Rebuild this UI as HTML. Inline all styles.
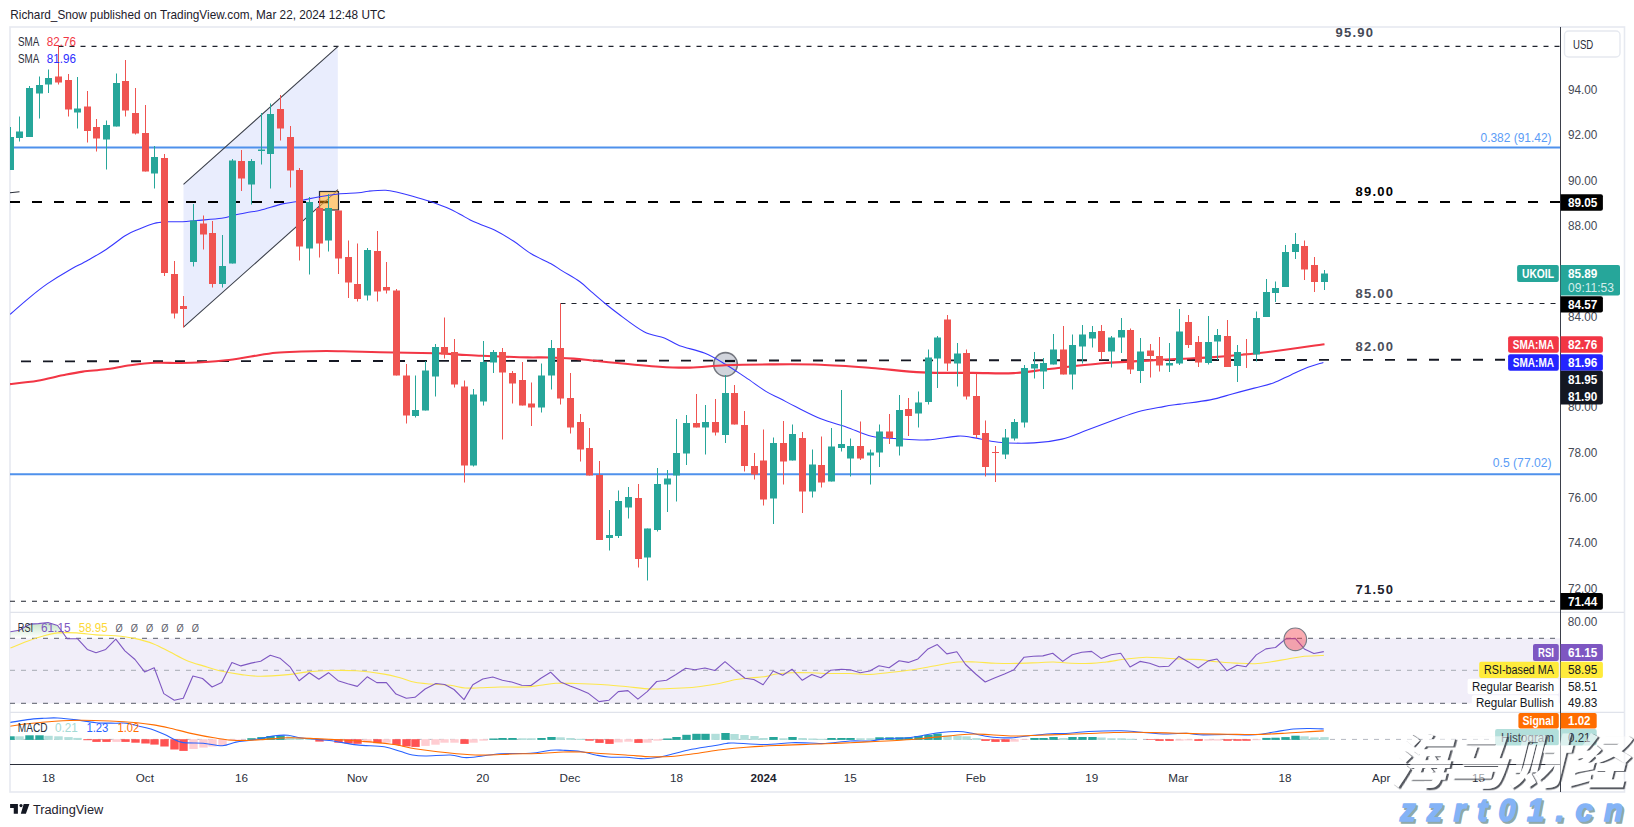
<!DOCTYPE html>
<html lang="en"><head><meta charset="utf-8"><title>UKOIL chart</title>
<style>html,body{margin:0;padding:0;background:#fff;}body{width:1634px;height:827px;overflow:hidden;font-family:"Liberation Sans","Noto Sans CJK SC",sans-serif;}svg{display:block}</style>
</head><body>
<svg width="1634" height="827" viewBox="0 0 1634 827" font-family="Liberation Sans, sans-serif">
<rect width="1634" height="827" fill="#fff"/>
<text x="10.3" y="19.1" font-size="13" fill="#1c202b" textLength="375.3" lengthAdjust="spacingAndGlyphs" >Richard_Snow published on TradingView.com, Mar 22, 2024 12:48 UTC</text>
<rect x="10" y="27" width="1614.5" height="765" fill="none" stroke="#e6e9f0" stroke-width="1.6"/>
<defs><clipPath id="cp"><rect x="10" y="28" width="1550.5" height="736"/></clipPath></defs>
<path d="M10 612.4H1624M10 712.4H1624" stroke="#e0e3eb" stroke-width="1.2"/>
<g clip-path="url(#cp)">
<rect x="10" y="638.4" width="1550" height="65" fill="#f1eef9"/>
<defs><linearGradient id="ob" x1="0" y1="0" x2="0" y2="1"><stop offset="0" stop-color="#4caf50" stop-opacity="0.32"/><stop offset="1" stop-color="#4caf50" stop-opacity="0"/></linearGradient></defs>
<polygon points="10,638.4 10,631.9 19.2,630.2 30.2,624.1 38.4,623.6 48,622.5 57.6,625.5 67,638.4" fill="url(#ob)"/>
<path d="M10 638.4H1560M10 703.4H1560" stroke="#787b86" stroke-width="1.1" stroke-dasharray="5 6" fill="none"/>
<path d="M10 670.4H1560" stroke="#b5b8c1" stroke-width="1.1" stroke-dasharray="5 6" fill="none"/>
<path d="M10 739.4H1495" stroke="#b5b8c1" stroke-width="1" stroke-dasharray="5 6" fill="none"/>
<polygon points="183.5,184.4 337.8,46.7 337.8,189.8 183.5,327.2" fill="#e9edfd"/>
<path d="M10 147.6H1560M10 474.3H1560" stroke="#4f91ec" stroke-width="2" fill="none"/>
<path d="M58.5 46.4H1560" stroke="#1e222d" stroke-width="1.1" stroke-dasharray="5 6" fill="none"/>
<path d="M560.5 303.5H1560" stroke="#1e222d" stroke-width="1.1" stroke-dasharray="5 6" fill="none"/>
<path d="M10 601.2H1560" stroke="#1e222d" stroke-width="1.1" stroke-dasharray="5 6" fill="none"/>
<path d="M10 202H1560" stroke="#000" stroke-width="2.1" stroke-dasharray="10 12" fill="none"/>
<path d="M21 361.4L1505 359.7" stroke="#151823" stroke-width="1.9" stroke-dasharray="10 12" fill="none"/>
<path d="M10 192.8L19.5 191.8" stroke="#2a2e39" stroke-width="1.1"/>
<path d="M183.5 184.4L337.8 46.7M183.5 327.2L338 189.6" stroke="#3c404b" stroke-width="1.1" fill="none"/>
<rect x="319.5" y="191.5" width="19" height="18.5" fill="#ffcc80" stroke="#2a2e39" stroke-width="1.2"/>
<path d="M320 202H328" stroke="#7d4a00" stroke-width="2.4"/>
<path d="M320 206L338 190" stroke="#b07a3a" stroke-width="1"/>
<circle cx="725.5" cy="364.4" r="11.8" fill="#d1d4dc" stroke="#74777f" stroke-width="1.6"/>
<path d="M725 361H735" stroke="#10131c" stroke-width="2.2"/>
<path d="M10.0 314.4C13.1 311.7 22.4 303.4 28.6 298.3C34.8 293.2 40.7 288.4 47.2 283.9C53.7 279.4 60.7 275.1 67.5 271.2C74.3 267.2 81.4 263.9 87.9 260.2C94.4 256.5 100.3 253.3 106.5 249.2C112.7 245.1 119.8 239.0 125.1 235.7C130.4 232.4 133.8 231.3 138.6 229.3C143.4 227.3 149.1 224.8 153.9 223.5C158.7 222.2 162.6 222.1 167.4 221.8C172.2 221.5 177.8 221.9 182.6 221.7C187.4 221.5 189.7 221.1 196.2 220.5C202.7 219.9 215.1 219.2 221.6 218.3C228.1 217.4 230.4 216.0 235.1 214.9C239.8 213.8 245.8 212.8 250.0 212.0C254.2 211.2 254.9 211.7 260.3 210.3C265.7 209.0 276.4 205.3 282.3 203.9C288.2 202.5 291.7 202.6 295.9 201.8C300.1 201.0 303.8 199.9 307.7 199.1C311.6 198.2 314.5 197.5 319.6 196.7C324.7 195.8 331.7 194.7 338.2 194.0C344.7 193.3 353.4 193.3 358.5 192.8C363.6 192.3 364.1 191.6 368.6 191.2C373.1 190.8 380.8 190.1 385.6 190.3C390.4 190.5 392.9 191.3 397.4 192.3C401.9 193.3 407.3 194.7 412.7 196.2C418.1 197.7 424.0 199.4 429.6 201.3C435.2 203.2 441.4 205.4 446.5 207.6C451.6 209.8 456.1 212.2 460.0 214.3C463.9 216.4 466.9 218.2 470.2 219.9C473.5 221.6 475.9 222.5 480.0 224.2C484.1 225.9 488.9 227.2 494.5 230.0C500.1 232.8 507.7 237.3 513.8 241.3C519.9 245.3 525.1 250.1 531.2 253.8C537.3 257.5 545.4 260.6 550.6 263.5C555.8 266.4 557.4 267.9 562.2 270.9C567.0 273.9 574.8 278.1 579.6 281.5C584.4 284.9 587.0 288.0 591.2 291.6C595.4 295.2 600.2 299.5 604.8 303.2C609.4 306.9 612.1 309.2 618.6 314.0C625.1 318.8 636.4 327.7 644.0 331.7C651.6 335.7 658.4 335.7 664.3 338.0C670.2 340.3 672.8 343.1 679.6 345.7C686.4 348.2 697.4 350.2 705.0 353.3C712.6 356.4 718.5 360.2 725.3 364.2C732.1 368.2 738.8 372.9 745.6 377.4C752.4 381.9 760.2 387.9 765.9 391.4C771.6 394.9 775.1 396.0 780.0 398.5C784.9 401.0 788.6 403.2 795.4 406.6C802.2 410.0 812.3 415.4 820.8 418.8C829.3 422.2 837.8 424.0 846.2 426.9C854.7 429.8 863.0 434.4 871.5 436.3C880.0 438.2 887.6 438.0 896.9 438.6C906.2 439.2 917.2 440.3 927.4 439.9C937.6 439.5 950.3 436.5 957.9 436.1C965.5 435.7 966.3 436.6 973.1 437.6C979.9 438.6 988.4 441.3 998.5 442.2C1008.6 443.1 1023.4 443.4 1034.0 442.9C1044.6 442.4 1053.1 441.2 1062.0 439.1C1070.9 437.0 1078.8 433.1 1087.3 430.0C1095.8 426.9 1104.2 423.7 1112.7 420.6C1121.2 417.6 1129.6 414.0 1138.1 411.7C1146.6 409.4 1156.5 407.9 1163.5 406.6C1170.5 405.3 1172.2 405.2 1180.0 404.1C1187.8 403.0 1201.5 401.6 1210.2 399.9C1218.9 398.2 1224.9 396.0 1232.2 394.0C1239.5 392.0 1247.4 389.9 1254.2 388.1C1261.0 386.3 1267.2 385.2 1273.3 383.0C1279.4 380.8 1285.5 377.3 1290.9 374.9C1296.3 372.4 1300.2 370.4 1305.6 368.3C1311.0 366.2 1320.4 363.4 1323.4 362.4" fill="none" stroke="#3737ff" stroke-width="1.1" stroke-linejoin="round"/>
<path d="M10.0 384.1C14.6 383.6 28.8 382.3 37.6 380.8C46.4 379.3 55.2 376.8 62.7 375.3C70.2 373.8 75.7 372.6 82.8 371.6C89.9 370.6 97.5 370.4 105.4 369.3C113.4 368.2 122.1 366.4 130.5 365.3C138.9 364.2 147.2 363.2 155.6 362.8C164.0 362.4 172.3 363.1 180.7 363.0C189.1 362.9 198.3 362.4 205.8 362.0C213.3 361.6 218.3 361.2 225.8 360.3C233.3 359.4 242.5 357.8 250.9 356.5C259.3 355.2 267.6 353.5 276.0 352.7C284.4 351.9 292.7 351.8 301.1 351.5C309.5 351.2 317.8 351.0 326.2 351.0C334.6 351.0 342.3 351.3 351.3 351.5C360.3 351.7 365.9 352.0 380.0 352.3C394.1 352.6 422.8 352.9 435.9 353.3C449.0 353.7 451.2 354.2 458.9 354.6C466.5 355.0 474.1 355.5 481.8 355.8C489.5 356.1 497.1 356.4 504.8 356.7C512.5 357.0 520.1 357.3 527.8 357.4C535.4 357.5 543.1 357.3 550.7 357.5C558.4 357.7 567.2 358.2 573.7 358.6C580.2 359.1 584.2 359.6 590.0 360.2C595.8 360.8 597.0 361.1 608.5 362.2C620.0 363.3 645.7 365.8 659.3 366.7C672.9 367.6 679.0 367.9 690.0 367.6C701.0 367.4 712.0 365.7 725.3 365.2C738.6 364.7 754.1 364.5 770.0 364.4C785.9 364.3 803.9 364.1 820.8 364.7C837.7 365.3 854.6 366.7 871.5 368.0C888.4 369.3 905.4 371.6 922.3 372.4C939.2 373.2 957.9 372.8 973.1 372.9C988.3 373.0 1001.0 373.8 1013.7 373.1C1026.4 372.5 1034.9 370.6 1049.3 369.0C1063.7 367.4 1083.1 364.9 1100.0 363.5C1116.9 362.1 1137.5 361.2 1150.8 360.4C1164.1 359.6 1170.0 359.4 1180.0 358.9C1190.0 358.4 1197.2 358.4 1210.8 357.4C1224.4 356.4 1242.5 355.0 1261.5 352.8C1280.5 350.6 1314.0 345.6 1324.5 344.2" fill="none" stroke="#f23645" stroke-width="2.1" stroke-linejoin="round"/>
<rect x="10" y="127.0" width="1" height="43.0" fill="#26a69a"/><rect x="7" y="137.0" width="7" height="33.0" fill="#26a69a"/>
<rect x="19" y="116.5" width="1" height="25.0" fill="#26a69a"/><rect x="16" y="131.5" width="7" height="6.5" fill="#26a69a"/>
<rect x="29" y="86.0" width="1" height="51.0" fill="#26a69a"/><rect x="26" y="88.0" width="7" height="49.0" fill="#26a69a"/>
<rect x="39" y="76.5" width="1" height="42.0" fill="#26a69a"/><rect x="36" y="85.0" width="7" height="8.5" fill="#26a69a"/>
<rect x="48" y="69.5" width="1" height="23.5" fill="#26a69a"/><rect x="45" y="78.0" width="7" height="6.5" fill="#26a69a"/>
<rect x="58" y="45.5" width="1" height="39.0" fill="#ef5350"/><rect x="55" y="76.5" width="7" height="6.0" fill="#ef5350"/>
<rect x="68" y="74.0" width="1" height="42.5" fill="#ef5350"/><rect x="65" y="80.0" width="7" height="29.5" fill="#ef5350"/>
<rect x="77" y="77.0" width="1" height="51.5" fill="#26a69a"/><rect x="74" y="108.5" width="7" height="4.0" fill="#26a69a"/>
<rect x="87" y="91.0" width="1" height="51.5" fill="#ef5350"/><rect x="84" y="106.5" width="7" height="24.5" fill="#ef5350"/>
<rect x="96" y="119.0" width="1" height="32.5" fill="#ef5350"/><rect x="93" y="127.0" width="7" height="11.5" fill="#ef5350"/>
<rect x="106" y="120.5" width="1" height="49.0" fill="#26a69a"/><rect x="103" y="125.0" width="7" height="14.5" fill="#26a69a"/>
<rect x="116" y="73.5" width="1" height="53.0" fill="#26a69a"/><rect x="113" y="83.0" width="7" height="43.5" fill="#26a69a"/>
<rect x="125" y="60.0" width="1" height="56.5" fill="#ef5350"/><rect x="122" y="81.0" width="7" height="29.5" fill="#ef5350"/>
<rect x="135" y="88.0" width="1" height="46.5" fill="#ef5350"/><rect x="132" y="113.0" width="7" height="20.5" fill="#ef5350"/>
<rect x="145" y="105.0" width="1" height="66.5" fill="#ef5350"/><rect x="142" y="133.0" width="7" height="38.5" fill="#ef5350"/>
<rect x="154" y="146.0" width="1" height="42.5" fill="#26a69a"/><rect x="151" y="157.0" width="7" height="16.5" fill="#26a69a"/>
<rect x="164" y="154.0" width="1" height="122.0" fill="#ef5350"/><rect x="161" y="158.0" width="7" height="115.0" fill="#ef5350"/>
<rect x="174" y="261.0" width="1" height="57.5" fill="#ef5350"/><rect x="171" y="274.0" width="7" height="39.5" fill="#ef5350"/>
<rect x="183" y="296.0" width="1" height="31.5" fill="#ef5350"/><rect x="180" y="306.0" width="7" height="3.0" fill="#ef5350"/>
<rect x="193" y="204.0" width="1" height="62.5" fill="#26a69a"/><rect x="190" y="220.5" width="7" height="41.5" fill="#26a69a"/>
<rect x="203" y="215.5" width="1" height="34.0" fill="#ef5350"/><rect x="200" y="223.5" width="7" height="11.0" fill="#ef5350"/>
<rect x="212" y="221.0" width="1" height="66.5" fill="#ef5350"/><rect x="209" y="233.0" width="7" height="51.0" fill="#ef5350"/>
<rect x="222" y="235.0" width="1" height="52.5" fill="#26a69a"/><rect x="219" y="266.0" width="7" height="18.0" fill="#26a69a"/>
<rect x="232" y="159.0" width="1" height="104.5" fill="#26a69a"/><rect x="229" y="160.5" width="7" height="103.0" fill="#26a69a"/>
<rect x="241" y="150.0" width="1" height="41.0" fill="#ef5350"/><rect x="238" y="161.0" width="7" height="17.5" fill="#ef5350"/>
<rect x="251" y="159.0" width="1" height="45.5" fill="#26a69a"/><rect x="248" y="161.0" width="7" height="23.5" fill="#26a69a"/>
<rect x="261" y="113.0" width="1" height="51.5" fill="#26a69a"/><rect x="258" y="149.5" width="7" height="1.5" fill="#26a69a"/>
<rect x="270" y="103.5" width="1" height="85.0" fill="#26a69a"/><rect x="267" y="114.0" width="7" height="40.0" fill="#26a69a"/>
<rect x="280" y="95.0" width="1" height="45.5" fill="#ef5350"/><rect x="277" y="109.0" width="7" height="19.5" fill="#ef5350"/>
<rect x="290" y="126.0" width="1" height="61.5" fill="#ef5350"/><rect x="287" y="137.0" width="7" height="33.5" fill="#ef5350"/>
<rect x="299" y="168.0" width="1" height="92.5" fill="#ef5350"/><rect x="296" y="170.0" width="7" height="76.5" fill="#ef5350"/>
<rect x="309" y="197.0" width="1" height="77.5" fill="#26a69a"/><rect x="306" y="202.0" width="7" height="46.5" fill="#26a69a"/>
<rect x="319" y="198.0" width="1" height="59.5" fill="#ef5350"/><rect x="316" y="208.0" width="7" height="35.5" fill="#ef5350"/>
<rect x="328" y="194.0" width="1" height="57.5" fill="#26a69a"/><rect x="325" y="208.0" width="7" height="32.5" fill="#26a69a"/>
<rect x="338" y="210.5" width="1" height="63.5" fill="#ef5350"/><rect x="335" y="210.5" width="7" height="48.0" fill="#ef5350"/>
<rect x="348" y="240.5" width="1" height="57.5" fill="#ef5350"/><rect x="345" y="257.0" width="7" height="25.5" fill="#ef5350"/>
<rect x="357" y="243.5" width="1" height="58.0" fill="#ef5350"/><rect x="354" y="284.0" width="7" height="15.0" fill="#ef5350"/>
<rect x="367" y="248.0" width="1" height="52.5" fill="#26a69a"/><rect x="364" y="250.0" width="7" height="45.5" fill="#26a69a"/>
<rect x="377" y="231.0" width="1" height="70.5" fill="#ef5350"/><rect x="374" y="251.0" width="7" height="40.5" fill="#ef5350"/>
<rect x="386" y="262.0" width="1" height="31.5" fill="#ef5350"/><rect x="383" y="287.0" width="7" height="3.5" fill="#ef5350"/>
<rect x="396" y="289.0" width="1" height="86.5" fill="#ef5350"/><rect x="393" y="290.5" width="7" height="85.0" fill="#ef5350"/>
<rect x="406" y="364.0" width="1" height="59.5" fill="#ef5350"/><rect x="403" y="375.5" width="7" height="40.0" fill="#ef5350"/>
<rect x="415" y="375.5" width="1" height="42.0" fill="#26a69a"/><rect x="412" y="410.0" width="7" height="6.0" fill="#26a69a"/>
<rect x="425" y="361.0" width="1" height="49.5" fill="#26a69a"/><rect x="422" y="370.5" width="7" height="40.0" fill="#26a69a"/>
<rect x="435" y="344.0" width="1" height="52.5" fill="#26a69a"/><rect x="432" y="347.0" width="7" height="29.5" fill="#26a69a"/>
<rect x="444" y="317.5" width="1" height="41.0" fill="#ef5350"/><rect x="441" y="347.0" width="7" height="7.5" fill="#ef5350"/>
<rect x="454" y="339.0" width="1" height="48.5" fill="#ef5350"/><rect x="451" y="352.0" width="7" height="32.5" fill="#ef5350"/>
<rect x="464" y="380.5" width="1" height="102.0" fill="#ef5350"/><rect x="461" y="386.5" width="7" height="79.0" fill="#ef5350"/>
<rect x="473" y="389.0" width="1" height="77.5" fill="#26a69a"/><rect x="470" y="394.5" width="7" height="71.0" fill="#26a69a"/>
<rect x="483" y="341.0" width="1" height="64.5" fill="#26a69a"/><rect x="480" y="362.0" width="7" height="39.5" fill="#26a69a"/>
<rect x="493" y="350.0" width="1" height="23.0" fill="#26a69a"/><rect x="490" y="352.0" width="7" height="10.5" fill="#26a69a"/>
<rect x="502" y="348.0" width="1" height="91.5" fill="#ef5350"/><rect x="499" y="352.0" width="7" height="20.5" fill="#ef5350"/>
<rect x="512" y="371.0" width="1" height="32.5" fill="#ef5350"/><rect x="509" y="373.0" width="7" height="10.5" fill="#ef5350"/>
<rect x="522" y="362.0" width="1" height="43.5" fill="#ef5350"/><rect x="519" y="380.0" width="7" height="25.5" fill="#ef5350"/>
<rect x="531" y="382.5" width="1" height="43.5" fill="#ef5350"/><rect x="528" y="403.5" width="7" height="4.0" fill="#ef5350"/>
<rect x="541" y="363.5" width="1" height="49.0" fill="#26a69a"/><rect x="538" y="375.5" width="7" height="32.0" fill="#26a69a"/>
<rect x="551" y="340.0" width="1" height="49.5" fill="#26a69a"/><rect x="548" y="348.0" width="7" height="27.5" fill="#26a69a"/>
<rect x="560" y="303.5" width="1" height="101.0" fill="#ef5350"/><rect x="557" y="348.0" width="7" height="50.5" fill="#ef5350"/>
<rect x="570" y="373.0" width="1" height="60.5" fill="#ef5350"/><rect x="567" y="398.0" width="7" height="29.5" fill="#ef5350"/>
<rect x="580" y="414.0" width="1" height="47.5" fill="#ef5350"/><rect x="577" y="422.0" width="7" height="27.5" fill="#ef5350"/>
<rect x="589" y="428.0" width="1" height="47.5" fill="#ef5350"/><rect x="586" y="448.0" width="7" height="27.5" fill="#ef5350"/>
<rect x="599" y="461.0" width="1" height="79.0" fill="#ef5350"/><rect x="596" y="475.0" width="7" height="65.0" fill="#ef5350"/>
<rect x="609" y="510.0" width="1" height="40.5" fill="#26a69a"/><rect x="606" y="535.0" width="7" height="3.0" fill="#26a69a"/>
<rect x="618" y="490.5" width="1" height="47.5" fill="#26a69a"/><rect x="615" y="501.0" width="7" height="35.0" fill="#26a69a"/>
<rect x="628" y="487.0" width="1" height="31.5" fill="#26a69a"/><rect x="625" y="497.0" width="7" height="10.5" fill="#26a69a"/>
<rect x="638" y="484.0" width="1" height="83.5" fill="#ef5350"/><rect x="635" y="498.0" width="7" height="61.0" fill="#ef5350"/>
<rect x="647" y="528.5" width="1" height="52.0" fill="#26a69a"/><rect x="644" y="528.5" width="7" height="29.0" fill="#26a69a"/>
<rect x="657" y="468.0" width="1" height="63.5" fill="#26a69a"/><rect x="654" y="484.0" width="7" height="46.0" fill="#26a69a"/>
<rect x="667" y="470.0" width="1" height="42.0" fill="#26a69a"/><rect x="664" y="478.5" width="7" height="6.0" fill="#26a69a"/>
<rect x="676" y="419.0" width="1" height="82.5" fill="#26a69a"/><rect x="673" y="453.0" width="7" height="22.5" fill="#26a69a"/>
<rect x="686" y="415.0" width="1" height="50.0" fill="#26a69a"/><rect x="683" y="423.0" width="7" height="30.5" fill="#26a69a"/>
<rect x="696" y="394.0" width="1" height="33.5" fill="#ef5350"/><rect x="693" y="423.0" width="7" height="4.5" fill="#ef5350"/>
<rect x="705" y="405.0" width="1" height="49.5" fill="#26a69a"/><rect x="702" y="422.0" width="7" height="5.5" fill="#26a69a"/>
<rect x="715" y="399.0" width="1" height="36.5" fill="#ef5350"/><rect x="712" y="422.0" width="7" height="10.5" fill="#ef5350"/>
<rect x="725" y="375.0" width="1" height="68.0" fill="#26a69a"/><rect x="722" y="393.0" width="7" height="42.0" fill="#26a69a"/>
<rect x="734" y="385.0" width="1" height="39.5" fill="#ef5350"/><rect x="731" y="393.0" width="7" height="31.5" fill="#ef5350"/>
<rect x="744" y="411.0" width="1" height="60.5" fill="#ef5350"/><rect x="741" y="425.0" width="7" height="41.0" fill="#ef5350"/>
<rect x="754" y="453.0" width="1" height="26.5" fill="#ef5350"/><rect x="751" y="466.0" width="7" height="8.5" fill="#ef5350"/>
<rect x="763" y="429.5" width="1" height="76.0" fill="#ef5350"/><rect x="760" y="460.5" width="7" height="39.0" fill="#ef5350"/>
<rect x="773" y="437.5" width="1" height="86.5" fill="#26a69a"/><rect x="770" y="443.0" width="7" height="55.5" fill="#26a69a"/>
<rect x="783" y="421.0" width="1" height="63.5" fill="#ef5350"/><rect x="780" y="443.0" width="7" height="18.5" fill="#ef5350"/>
<rect x="792" y="424.5" width="1" height="36.0" fill="#26a69a"/><rect x="789" y="434.0" width="7" height="26.5" fill="#26a69a"/>
<rect x="802" y="432.0" width="1" height="81.0" fill="#ef5350"/><rect x="799" y="438.0" width="7" height="53.5" fill="#ef5350"/>
<rect x="812" y="449.5" width="1" height="48.0" fill="#26a69a"/><rect x="809" y="464.5" width="7" height="27.0" fill="#26a69a"/>
<rect x="821" y="436.5" width="1" height="51.0" fill="#ef5350"/><rect x="818" y="465.0" width="7" height="17.5" fill="#ef5350"/>
<rect x="831" y="428.0" width="1" height="53.5" fill="#26a69a"/><rect x="828" y="446.5" width="7" height="35.0" fill="#26a69a"/>
<rect x="841" y="390.0" width="1" height="61.5" fill="#26a69a"/><rect x="838" y="444.0" width="7" height="4.0" fill="#26a69a"/>
<rect x="850" y="438.5" width="1" height="38.0" fill="#26a69a"/><rect x="847" y="446.0" width="7" height="12.5" fill="#26a69a"/>
<rect x="860" y="421.5" width="1" height="38.5" fill="#ef5350"/><rect x="857" y="446.0" width="7" height="12.5" fill="#ef5350"/>
<rect x="870" y="449.5" width="1" height="35.0" fill="#26a69a"/><rect x="867" y="452.5" width="7" height="3.0" fill="#26a69a"/>
<rect x="879" y="424.5" width="1" height="42.5" fill="#26a69a"/><rect x="876" y="431.5" width="7" height="21.0" fill="#26a69a"/>
<rect x="889" y="414.0" width="1" height="30.0" fill="#ef5350"/><rect x="886" y="431.5" width="7" height="6.5" fill="#ef5350"/>
<rect x="899" y="395.0" width="1" height="60.5" fill="#26a69a"/><rect x="896" y="410.0" width="7" height="36.5" fill="#26a69a"/>
<rect x="908" y="398.0" width="1" height="38.0" fill="#ef5350"/><rect x="905" y="409.0" width="7" height="7.0" fill="#ef5350"/>
<rect x="918" y="391.5" width="1" height="36.0" fill="#26a69a"/><rect x="915" y="402.5" width="7" height="11.0" fill="#26a69a"/>
<rect x="928" y="349.5" width="1" height="55.0" fill="#26a69a"/><rect x="925" y="357.5" width="7" height="44.5" fill="#26a69a"/>
<rect x="937" y="336.0" width="1" height="52.0" fill="#26a69a"/><rect x="934" y="337.5" width="7" height="21.0" fill="#26a69a"/>
<rect x="947" y="315.0" width="1" height="56.0" fill="#ef5350"/><rect x="944" y="319.5" width="7" height="44.0" fill="#ef5350"/>
<rect x="957" y="343.0" width="1" height="43.5" fill="#26a69a"/><rect x="954" y="353.5" width="7" height="10.0" fill="#26a69a"/>
<rect x="966" y="349.5" width="1" height="50.0" fill="#ef5350"/><rect x="963" y="353.0" width="7" height="43.5" fill="#ef5350"/>
<rect x="976" y="373.5" width="1" height="64.5" fill="#ef5350"/><rect x="973" y="396.0" width="7" height="39.0" fill="#ef5350"/>
<rect x="985" y="420.5" width="1" height="56.0" fill="#ef5350"/><rect x="982" y="433.0" width="7" height="34.0" fill="#ef5350"/>
<rect x="995" y="446.0" width="1" height="36.0" fill="#ef5350"/><rect x="992" y="452.0" width="7" height="1.0" fill="#ef5350"/>
<rect x="1005" y="429.0" width="1" height="30.0" fill="#26a69a"/><rect x="1002" y="437.5" width="7" height="17.0" fill="#26a69a"/>
<rect x="1014" y="419.0" width="1" height="21.5" fill="#26a69a"/><rect x="1011" y="422.0" width="7" height="16.5" fill="#26a69a"/>
<rect x="1024" y="365.0" width="1" height="62.5" fill="#26a69a"/><rect x="1021" y="368.0" width="7" height="54.5" fill="#26a69a"/>
<rect x="1034" y="352.0" width="1" height="26.5" fill="#26a69a"/><rect x="1031" y="364.0" width="7" height="4.5" fill="#26a69a"/>
<rect x="1043" y="358.0" width="1" height="31.0" fill="#26a69a"/><rect x="1040" y="363.0" width="7" height="8.5" fill="#26a69a"/>
<rect x="1053" y="334.0" width="1" height="30.5" fill="#26a69a"/><rect x="1050" y="349.5" width="7" height="15.0" fill="#26a69a"/>
<rect x="1063" y="326.0" width="1" height="48.5" fill="#ef5350"/><rect x="1060" y="349.5" width="7" height="25.0" fill="#ef5350"/>
<rect x="1072" y="334.5" width="1" height="55.0" fill="#26a69a"/><rect x="1069" y="345.0" width="7" height="29.5" fill="#26a69a"/>
<rect x="1082" y="325.0" width="1" height="38.5" fill="#26a69a"/><rect x="1079" y="334.5" width="7" height="12.0" fill="#26a69a"/>
<rect x="1092" y="326.0" width="1" height="21.5" fill="#26a69a"/><rect x="1089" y="332.0" width="7" height="6.5" fill="#26a69a"/>
<rect x="1101" y="325.0" width="1" height="34.5" fill="#ef5350"/><rect x="1098" y="331.0" width="7" height="21.0" fill="#ef5350"/>
<rect x="1111" y="336.0" width="1" height="31.5" fill="#26a69a"/><rect x="1108" y="337.5" width="7" height="14.0" fill="#26a69a"/>
<rect x="1121" y="318.0" width="1" height="35.0" fill="#26a69a"/><rect x="1118" y="330.0" width="7" height="7.5" fill="#26a69a"/>
<rect x="1130" y="328.5" width="1" height="45.5" fill="#ef5350"/><rect x="1127" y="330.0" width="7" height="39.5" fill="#ef5350"/>
<rect x="1140" y="338.0" width="1" height="45.0" fill="#26a69a"/><rect x="1137" y="351.5" width="7" height="19.5" fill="#26a69a"/>
<rect x="1150" y="344.0" width="1" height="33.5" fill="#ef5350"/><rect x="1147" y="350.5" width="7" height="5.5" fill="#ef5350"/>
<rect x="1159" y="337.0" width="1" height="34.5" fill="#ef5350"/><rect x="1156" y="356.0" width="7" height="9.5" fill="#ef5350"/>
<rect x="1169" y="343.0" width="1" height="29.0" fill="#26a69a"/><rect x="1166" y="363.0" width="7" height="2.5" fill="#26a69a"/>
<rect x="1179" y="309.0" width="1" height="56.0" fill="#26a69a"/><rect x="1176" y="331.5" width="7" height="32.0" fill="#26a69a"/>
<rect x="1188" y="315.0" width="1" height="33.0" fill="#ef5350"/><rect x="1185" y="322.0" width="7" height="23.0" fill="#ef5350"/>
<rect x="1198" y="336.0" width="1" height="31.0" fill="#ef5350"/><rect x="1195" y="342.0" width="7" height="20.5" fill="#ef5350"/>
<rect x="1208" y="316.0" width="1" height="48.5" fill="#26a69a"/><rect x="1205" y="342.0" width="7" height="21.0" fill="#26a69a"/>
<rect x="1217" y="329.0" width="1" height="31.0" fill="#26a69a"/><rect x="1214" y="335.0" width="7" height="6.5" fill="#26a69a"/>
<rect x="1227" y="320.0" width="1" height="47.0" fill="#ef5350"/><rect x="1224" y="336.0" width="7" height="31.0" fill="#ef5350"/>
<rect x="1237" y="345.0" width="1" height="37.0" fill="#26a69a"/><rect x="1234" y="352.0" width="7" height="14.0" fill="#26a69a"/>
<rect x="1246" y="339.0" width="1" height="29.0" fill="#ef5350"/><rect x="1243" y="353.5" width="7" height="1.0" fill="#ef5350"/>
<rect x="1256" y="311.5" width="1" height="50.0" fill="#26a69a"/><rect x="1253" y="318.0" width="7" height="36.5" fill="#26a69a"/>
<rect x="1266" y="279.0" width="1" height="38.0" fill="#26a69a"/><rect x="1263" y="292.0" width="7" height="25.0" fill="#26a69a"/>
<rect x="1275" y="281.5" width="1" height="20.5" fill="#26a69a"/><rect x="1272" y="288.0" width="7" height="5.0" fill="#26a69a"/>
<rect x="1285" y="245.0" width="1" height="42.0" fill="#26a69a"/><rect x="1282" y="252.0" width="7" height="35.0" fill="#26a69a"/>
<rect x="1295" y="233.0" width="1" height="26.0" fill="#26a69a"/><rect x="1292" y="244.0" width="7" height="8.0" fill="#26a69a"/>
<rect x="1304" y="240.5" width="1" height="39.5" fill="#ef5350"/><rect x="1301" y="246.0" width="7" height="23.5" fill="#ef5350"/>
<rect x="1314" y="257.0" width="1" height="35.0" fill="#ef5350"/><rect x="1311" y="265.0" width="7" height="17.0" fill="#ef5350"/>
<rect x="1324" y="270.0" width="1" height="20.0" fill="#26a69a"/><rect x="1321" y="273.5" width="7" height="8.5" fill="#26a69a"/>
<rect x="6.3" y="736.3" width="8.4" height="3.6" fill="#26a69a"/>
<rect x="15.3" y="736.3" width="8.4" height="3.6" fill="#b2dfdb"/>
<rect x="25.3" y="735.3" width="8.4" height="4.6" fill="#26a69a"/>
<rect x="35.3" y="735.3" width="8.4" height="4.6" fill="#26a69a"/>
<rect x="44.3" y="735.8" width="8.4" height="4.1" fill="#b2dfdb"/>
<rect x="54.3" y="736.3" width="8.4" height="3.6" fill="#b2dfdb"/>
<rect x="64.3" y="737.1" width="8.4" height="2.8" fill="#b2dfdb"/>
<rect x="73.3" y="737.9" width="8.4" height="2.0" fill="#b2dfdb"/>
<rect x="83.3" y="739.2" width="8.4" height="1.0" fill="#ff5252"/>
<rect x="92.3" y="739.2" width="8.4" height="2.7" fill="#ff5252"/>
<rect x="102.3" y="739.2" width="8.4" height="2.7" fill="#ff5252"/>
<rect x="112.3" y="739.2" width="8.4" height="2.7" fill="#ffcdd2"/>
<rect x="121.3" y="739.2" width="8.4" height="2.7" fill="#ff5252"/>
<rect x="131.3" y="739.2" width="8.4" height="3.5" fill="#ff5252"/>
<rect x="141.3" y="739.2" width="8.4" height="4.3" fill="#ff5252"/>
<rect x="150.3" y="739.2" width="8.4" height="5.4" fill="#ff5252"/>
<rect x="160.3" y="739.2" width="8.4" height="7.3" fill="#ff5252"/>
<rect x="170.3" y="739.2" width="8.4" height="10.3" fill="#ff5252"/>
<rect x="179.3" y="739.2" width="8.4" height="11.7" fill="#ff5252"/>
<rect x="189.3" y="739.2" width="8.4" height="9.8" fill="#ffcdd2"/>
<rect x="199.3" y="739.2" width="8.4" height="8.4" fill="#ffcdd2"/>
<rect x="208.3" y="739.2" width="8.4" height="7.3" fill="#ffcdd2"/>
<rect x="218.3" y="739.2" width="8.4" height="6.8" fill="#ffcdd2"/>
<rect x="228.3" y="739.2" width="8.4" height="1.2" fill="#ffcdd2"/>
<rect x="237.3" y="739.2" width="8.4" height="0.5" fill="#ffcdd2"/>
<rect x="247.3" y="738.2" width="8.4" height="1.7" fill="#26a69a"/>
<rect x="257.3" y="737.1" width="8.4" height="2.8" fill="#26a69a"/>
<rect x="266.3" y="736.0" width="8.4" height="3.9" fill="#26a69a"/>
<rect x="276.3" y="735.5" width="8.4" height="4.4" fill="#26a69a"/>
<rect x="286.3" y="736.3" width="8.4" height="3.6" fill="#b2dfdb"/>
<rect x="295.3" y="737.7" width="8.4" height="2.2" fill="#b2dfdb"/>
<rect x="305.3" y="738.5" width="8.4" height="1.4" fill="#b2dfdb"/>
<rect x="315.3" y="739.2" width="8.4" height="2.4" fill="#ff5252"/>
<rect x="324.3" y="739.2" width="8.4" height="1.8" fill="#ffcdd2"/>
<rect x="334.3" y="739.2" width="8.4" height="3.5" fill="#ff5252"/>
<rect x="344.3" y="739.2" width="8.4" height="4.3" fill="#ff5252"/>
<rect x="353.3" y="739.2" width="8.4" height="4.6" fill="#ff5252"/>
<rect x="363.3" y="739.2" width="8.4" height="3.5" fill="#ffcdd2"/>
<rect x="373.3" y="739.2" width="8.4" height="4.0" fill="#ff5252"/>
<rect x="382.3" y="739.2" width="8.4" height="3.5" fill="#ffcdd2"/>
<rect x="392.3" y="739.2" width="8.4" height="5.7" fill="#ff5252"/>
<rect x="402.3" y="739.2" width="8.4" height="7.2" fill="#ff5252"/>
<rect x="411.3" y="739.2" width="8.4" height="7.7" fill="#ff5252"/>
<rect x="421.3" y="739.2" width="8.4" height="6.7" fill="#ffcdd2"/>
<rect x="431.3" y="739.2" width="8.4" height="5.5" fill="#ffcdd2"/>
<rect x="440.3" y="739.2" width="8.4" height="3.5" fill="#ffcdd2"/>
<rect x="450.3" y="739.2" width="8.4" height="3.5" fill="#ffcdd2"/>
<rect x="460.3" y="739.2" width="8.4" height="4.7" fill="#ff5252"/>
<rect x="469.3" y="739.2" width="8.4" height="3.5" fill="#ffcdd2"/>
<rect x="479.3" y="739.2" width="8.4" height="1.5" fill="#ffcdd2"/>
<rect x="489.3" y="738.5" width="8.4" height="1.4" fill="#26a69a"/>
<rect x="498.3" y="738.0" width="8.4" height="1.9" fill="#26a69a"/>
<rect x="508.3" y="738.0" width="8.4" height="1.9" fill="#26a69a"/>
<rect x="518.3" y="738.3" width="8.4" height="1.6" fill="#b2dfdb"/>
<rect x="527.3" y="738.3" width="8.4" height="1.6" fill="#b2dfdb"/>
<rect x="537.3" y="738.0" width="8.4" height="1.9" fill="#26a69a"/>
<rect x="547.3" y="737.0" width="8.4" height="2.9" fill="#26a69a"/>
<rect x="556.3" y="737.3" width="8.4" height="2.6" fill="#b2dfdb"/>
<rect x="566.3" y="738.0" width="8.4" height="1.9" fill="#b2dfdb"/>
<rect x="576.3" y="738.8" width="8.4" height="1.1" fill="#b2dfdb"/>
<rect x="585.3" y="739.2" width="8.4" height="1.5" fill="#ff5252"/>
<rect x="595.3" y="739.2" width="8.4" height="3.7" fill="#ff5252"/>
<rect x="605.3" y="739.2" width="8.4" height="4.7" fill="#ff5252"/>
<rect x="614.3" y="739.2" width="8.4" height="3.2" fill="#ffcdd2"/>
<rect x="624.3" y="739.2" width="8.4" height="2.5" fill="#ffcdd2"/>
<rect x="634.3" y="739.2" width="8.4" height="3.7" fill="#ff5252"/>
<rect x="643.3" y="739.2" width="8.4" height="3.5" fill="#ffcdd2"/>
<rect x="653.3" y="739.2" width="8.4" height="1.5" fill="#ffcdd2"/>
<rect x="663.3" y="738.5" width="8.4" height="1.4" fill="#26a69a"/>
<rect x="672.3" y="737.0" width="8.4" height="2.9" fill="#26a69a"/>
<rect x="682.3" y="734.8" width="8.4" height="5.1" fill="#26a69a"/>
<rect x="692.3" y="733.8" width="8.4" height="6.1" fill="#26a69a"/>
<rect x="701.3" y="733.8" width="8.4" height="6.1" fill="#26a69a"/>
<rect x="711.3" y="733.8" width="8.4" height="6.1" fill="#b2dfdb"/>
<rect x="721.3" y="733.0" width="8.4" height="6.9" fill="#26a69a"/>
<rect x="730.3" y="734.0" width="8.4" height="5.9" fill="#b2dfdb"/>
<rect x="740.3" y="735.0" width="8.4" height="4.9" fill="#b2dfdb"/>
<rect x="750.3" y="736.0" width="8.4" height="3.9" fill="#b2dfdb"/>
<rect x="759.3" y="738.0" width="8.4" height="1.9" fill="#b2dfdb"/>
<rect x="769.3" y="737.0" width="8.4" height="2.9" fill="#26a69a"/>
<rect x="779.3" y="738.3" width="8.4" height="1.6" fill="#b2dfdb"/>
<rect x="788.3" y="737.0" width="8.4" height="2.9" fill="#26a69a"/>
<rect x="798.3" y="738.0" width="8.4" height="1.9" fill="#b2dfdb"/>
<rect x="808.3" y="738.5" width="8.4" height="1.4" fill="#b2dfdb"/>
<rect x="817.3" y="738.8" width="8.4" height="1.1" fill="#b2dfdb"/>
<rect x="827.3" y="738.0" width="8.4" height="1.9" fill="#26a69a"/>
<rect x="837.3" y="738.0" width="8.4" height="1.9" fill="#26a69a"/>
<rect x="846.3" y="738.0" width="8.4" height="1.9" fill="#26a69a"/>
<rect x="856.3" y="738.3" width="8.4" height="1.6" fill="#b2dfdb"/>
<rect x="866.3" y="738.3" width="8.4" height="1.6" fill="#b2dfdb"/>
<rect x="875.3" y="737.3" width="8.4" height="2.6" fill="#26a69a"/>
<rect x="885.3" y="737.3" width="8.4" height="2.6" fill="#26a69a"/>
<rect x="895.3" y="737.3" width="8.4" height="2.6" fill="#26a69a"/>
<rect x="904.3" y="737.3" width="8.4" height="2.6" fill="#26a69a"/>
<rect x="914.3" y="736.0" width="8.4" height="3.9" fill="#26a69a"/>
<rect x="924.3" y="734.8" width="8.4" height="5.1" fill="#26a69a"/>
<rect x="933.3" y="733.5" width="8.4" height="6.4" fill="#26a69a"/>
<rect x="943.3" y="735.5" width="8.4" height="4.4" fill="#b2dfdb"/>
<rect x="953.3" y="735.8" width="8.4" height="4.1" fill="#b2dfdb"/>
<rect x="962.3" y="736.3" width="8.4" height="3.6" fill="#b2dfdb"/>
<rect x="972.3" y="738.1" width="8.4" height="1.8" fill="#b2dfdb"/>
<rect x="981.3" y="739.2" width="8.4" height="1.7" fill="#ff5252"/>
<rect x="991.3" y="739.2" width="8.4" height="2.7" fill="#ff5252"/>
<rect x="1001.3" y="739.2" width="8.4" height="2.7" fill="#ff5252"/>
<rect x="1010.3" y="739.2" width="8.4" height="2.5" fill="#ffcdd2"/>
<rect x="1020.3" y="739.2" width="8.4" height="0.7" fill="#ffcdd2"/>
<rect x="1030.3" y="738.0" width="8.4" height="1.9" fill="#26a69a"/>
<rect x="1039.3" y="738.0" width="8.4" height="1.9" fill="#26a69a"/>
<rect x="1049.3" y="737.0" width="8.4" height="2.9" fill="#26a69a"/>
<rect x="1059.3" y="738.0" width="8.4" height="1.9" fill="#b2dfdb"/>
<rect x="1068.3" y="737.0" width="8.4" height="2.9" fill="#26a69a"/>
<rect x="1078.3" y="737.0" width="8.4" height="2.9" fill="#26a69a"/>
<rect x="1088.3" y="737.0" width="8.4" height="2.9" fill="#26a69a"/>
<rect x="1097.3" y="737.5" width="8.4" height="2.4" fill="#b2dfdb"/>
<rect x="1107.3" y="738.3" width="8.4" height="1.6" fill="#b2dfdb"/>
<rect x="1117.3" y="738.3" width="8.4" height="1.6" fill="#b2dfdb"/>
<rect x="1126.3" y="738.8" width="8.4" height="1.1" fill="#b2dfdb"/>
<rect x="1146.3" y="739.2" width="8.4" height="0.7" fill="#ff5252"/>
<rect x="1155.3" y="739.2" width="8.4" height="1.7" fill="#ff5252"/>
<rect x="1165.3" y="739.2" width="8.4" height="1.7" fill="#ff5252"/>
<rect x="1175.3" y="739.2" width="8.4" height="1.5" fill="#ffcdd2"/>
<rect x="1184.3" y="739.2" width="8.4" height="1.2" fill="#ffcdd2"/>
<rect x="1194.3" y="739.2" width="8.4" height="1.7" fill="#ff5252"/>
<rect x="1204.3" y="739.2" width="8.4" height="1.4" fill="#ffcdd2"/>
<rect x="1213.3" y="739.2" width="8.4" height="1.4" fill="#ffcdd2"/>
<rect x="1223.3" y="739.2" width="8.4" height="1.6" fill="#ff5252"/>
<rect x="1233.3" y="739.2" width="8.4" height="1.6" fill="#ff5252"/>
<rect x="1242.3" y="739.2" width="8.4" height="1.6" fill="#ff5252"/>
<rect x="1252.3" y="739.2" width="8.4" height="1.0" fill="#ffcdd2"/>
<rect x="1262.3" y="737.9" width="8.4" height="2.0" fill="#26a69a"/>
<rect x="1271.3" y="737.7" width="8.4" height="2.2" fill="#26a69a"/>
<rect x="1281.3" y="737.1" width="8.4" height="2.8" fill="#26a69a"/>
<rect x="1291.3" y="735.7" width="8.4" height="4.2" fill="#26a69a"/>
<rect x="1300.3" y="736.3" width="8.4" height="3.6" fill="#b2dfdb"/>
<rect x="1310.3" y="737.4" width="8.4" height="2.5" fill="#b2dfdb"/>
<rect x="1320.3" y="737.1" width="8.4" height="2.8" fill="#b2dfdb"/>
<path d="M10.4 722.4C13.2 721.9 21.8 720.3 27.4 719.6C33.0 718.9 38.9 718.6 43.9 718.3C48.9 718.0 52.1 717.7 57.6 718.0C63.1 718.3 70.4 719.1 76.8 719.9C83.2 720.7 89.6 722.2 96.0 722.7C102.4 723.2 110.3 723.1 115.3 723.2C120.3 723.3 122.6 722.8 126.2 723.2C129.8 723.6 133.1 724.7 137.2 725.7C141.3 726.7 146.3 727.5 150.9 729.0C155.5 730.5 159.7 732.3 164.7 734.5C169.7 736.7 174.7 740.6 181.1 742.1C187.5 743.6 196.2 742.6 203.1 743.2C210.0 743.8 216.8 745.9 222.3 745.7C227.8 745.5 231.0 743.1 236.0 742.1C241.0 741.1 246.1 741.0 252.5 740.0C258.9 739.0 268.5 736.6 274.4 735.8C280.3 735.0 283.5 734.9 288.1 735.3C292.7 735.7 295.0 737.1 301.9 738.0C308.8 738.9 320.1 739.4 329.3 740.5C338.5 741.6 347.7 743.9 356.8 744.9C365.9 745.9 377.0 745.7 384.2 746.8C391.4 747.9 395.3 749.9 400.0 751.3C404.7 752.7 408.3 754.2 412.5 755.0C416.7 755.8 418.8 756.0 425.1 756.0C431.4 756.0 443.7 754.8 450.2 755.0C456.7 755.2 459.8 757.2 464.0 757.5C468.2 757.8 469.2 757.6 475.3 757.0C481.4 756.4 491.2 754.4 500.4 753.8C509.6 753.2 522.1 753.9 530.5 753.3C538.9 752.7 545.2 750.8 550.6 750.3C556.0 749.8 558.1 750.1 563.1 750.3C568.1 750.5 575.3 750.7 580.7 751.5C586.1 752.3 591.1 754.1 595.7 755.0C600.3 755.9 603.3 756.6 608.3 757.0C613.3 757.4 620.4 757.0 625.8 757.3C631.2 757.6 636.7 758.4 640.9 758.6C645.1 758.8 646.7 758.8 650.9 758.3C655.1 757.8 659.7 757.2 666.0 755.8C672.3 754.4 680.6 751.7 688.6 750.0C696.6 748.3 707.4 746.9 713.7 745.8C720.0 744.7 722.9 744.0 726.2 743.5C729.6 743.0 727.5 742.8 733.8 743.0C740.1 743.2 754.3 744.5 763.9 744.5C773.5 744.5 783.8 743.0 791.5 742.7C799.2 742.5 804.4 742.9 810.0 743.0C815.6 743.1 818.4 743.8 825.1 743.5C831.8 743.2 842.7 741.4 850.2 741.0C857.7 740.6 864.4 741.4 870.3 741.0C876.1 740.6 879.0 739.2 885.3 738.7C891.6 738.2 901.2 738.3 907.9 737.7C914.6 737.1 920.1 735.9 925.5 735.0C930.9 734.1 935.1 733.1 940.5 732.5C945.9 731.9 953.1 731.4 958.1 731.5C963.1 731.6 966.0 732.2 970.6 733.0C975.2 733.8 980.7 735.4 985.7 736.2C990.7 737.0 996.2 737.5 1000.8 737.7C1005.4 738.0 1008.3 738.1 1013.3 737.7C1018.3 737.3 1024.6 736.2 1030.9 735.5C1037.2 734.8 1045.1 734.0 1050.9 733.7C1056.8 733.4 1059.7 733.9 1066.0 733.5C1072.3 733.1 1079.4 732.0 1088.6 731.5C1097.8 731.0 1112.4 730.6 1121.2 730.7C1130.0 730.8 1133.8 731.7 1141.3 732.2C1148.8 732.8 1158.9 733.8 1166.4 734.0C1173.9 734.2 1180.8 733.1 1186.4 733.2C1192.0 733.3 1193.2 734.6 1200.0 734.8C1206.8 735.0 1218.2 734.5 1227.4 734.5C1236.6 734.5 1247.1 735.2 1254.9 734.8C1262.7 734.4 1267.7 733.0 1274.1 732.0C1280.5 731.0 1287.3 729.6 1293.3 729.0C1299.2 728.4 1304.7 728.5 1309.8 728.5C1314.9 728.5 1321.5 728.9 1323.8 729.0" fill="none" stroke="#2962ff" stroke-width="1.1" stroke-linejoin="round"/>
<path d="M10.4 726.2C13.2 725.8 20.0 724.6 27.4 723.8C34.8 723.0 45.8 721.9 54.9 721.3C64.0 720.7 73.1 720.2 82.3 720.2C91.5 720.2 100.7 720.6 109.8 721.0C118.9 721.4 129.9 722.1 137.2 722.7C144.5 723.4 148.2 724.0 153.7 724.9C159.2 725.8 163.7 726.8 170.1 728.2C176.5 729.7 184.8 732.0 192.1 733.6C199.4 735.2 206.7 736.6 214.0 737.8C221.3 738.9 228.2 740.2 236.0 740.5C243.8 740.8 252.0 740.2 260.7 739.7C269.4 739.2 279.0 738.0 288.1 737.8C297.2 737.6 306.5 738.2 315.6 738.6C324.8 739.0 333.9 739.5 343.0 740.0C352.1 740.5 362.3 741.2 370.5 741.9C378.7 742.6 387.5 743.7 392.4 744.3C397.3 744.9 396.2 744.8 400.0 745.5C403.8 746.2 408.7 747.8 415.0 748.8C421.3 749.8 428.4 750.8 437.6 751.8C446.8 752.8 461.9 754.3 470.3 754.8C478.7 755.3 480.7 755.1 487.8 755.0C494.9 754.9 504.5 754.2 512.9 754.0C521.3 753.8 529.6 753.8 538.0 753.5C546.4 753.2 556.0 752.2 563.1 752.0C570.2 751.8 574.4 751.8 580.7 752.0C587.0 752.2 593.3 753.0 600.8 753.5C608.3 754.0 617.4 754.5 625.8 755.0C634.1 755.5 643.4 756.5 650.9 756.8C658.4 757.0 663.5 757.0 671.0 756.5C678.5 756.0 687.7 754.6 696.1 753.5C704.5 752.4 712.8 750.8 721.2 749.8C729.6 748.8 737.1 748.0 746.3 747.3C755.5 746.6 765.8 746.0 776.4 745.5C787.0 745.0 801.9 744.6 810.0 744.3C818.1 744.0 818.4 744.1 825.1 743.8C831.8 743.5 841.8 743.1 850.2 742.7C858.6 742.3 866.9 741.9 875.3 741.5C883.7 741.1 892.9 740.7 900.4 740.2C907.9 739.7 913.8 739.3 920.5 738.7C927.2 738.1 933.8 737.4 940.5 736.7C947.2 736.0 954.7 735.2 960.6 734.7C966.5 734.2 970.7 734.0 975.7 734.0C980.7 734.0 984.4 734.4 990.7 734.7C997.0 735.0 1005.3 735.9 1013.3 736.0C1021.2 736.1 1030.0 735.5 1038.4 735.2C1046.8 735.0 1055.1 734.8 1063.5 734.5C1071.9 734.2 1080.2 733.8 1088.6 733.5C1097.0 733.2 1106.6 732.7 1113.7 732.5C1120.8 732.3 1124.9 732.2 1131.2 732.2C1137.5 732.2 1143.8 732.3 1151.3 732.5C1158.8 732.7 1168.3 733.0 1176.4 733.2C1184.5 733.4 1191.5 733.5 1200.0 733.7C1208.5 733.9 1218.2 734.1 1227.4 734.2C1236.6 734.3 1245.8 734.6 1254.9 734.5C1264.1 734.4 1274.1 733.8 1282.3 733.4C1290.5 733.0 1297.4 732.4 1304.3 732.0C1311.2 731.6 1320.5 731.1 1323.8 730.9" fill="none" stroke="#ff6d00" stroke-width="1.1" stroke-linejoin="round"/>
<path d="M10.4 648.0C13.2 646.9 21.8 643.2 27.4 641.2C33.0 639.2 38.9 637.1 43.9 635.7C48.9 634.3 52.1 633.4 57.6 632.9C63.1 632.4 70.4 632.6 76.8 632.9C83.2 633.2 89.6 634.4 96.0 634.9C102.4 635.4 108.9 635.1 115.3 635.7C121.7 636.3 128.1 637.0 134.5 638.4C140.9 639.8 147.8 641.6 153.7 643.9C159.6 646.2 164.6 649.4 170.1 652.1C175.6 654.9 181.1 658.1 186.6 660.4C192.1 662.7 197.6 664.2 203.1 665.9C208.6 667.6 213.1 669.3 219.5 670.8C225.9 672.2 234.6 673.7 241.5 674.6C248.4 675.5 252.9 676.3 260.7 676.3C268.5 676.3 280.3 675.3 288.1 674.6C295.9 673.9 300.5 672.6 307.4 671.9C314.3 671.2 321.1 670.7 329.3 670.5C337.5 670.3 347.7 670.2 356.8 670.8C365.9 671.4 377.0 672.9 384.2 674.1C391.4 675.3 394.9 676.4 400.0 677.8C405.1 679.2 410.0 681.3 415.0 682.3C420.0 683.3 424.2 683.5 430.1 684.0C436.0 684.5 444.4 684.6 450.2 685.3C456.0 686.0 460.2 687.6 465.2 688.0C470.2 688.4 474.4 688.0 480.3 687.8C486.2 687.6 492.9 687.1 500.4 687.0C507.9 686.9 518.8 687.3 525.5 687.0C532.2 686.7 535.5 685.9 540.5 685.3C545.5 684.7 549.7 683.6 555.6 683.3C561.5 683.0 568.2 683.3 575.7 683.5C583.2 683.7 592.4 684.0 600.8 684.5C609.1 685.0 617.4 685.8 625.8 686.5C634.1 687.2 642.5 688.7 650.9 689.0C659.3 689.3 668.5 688.6 676.0 688.3C683.5 688.0 689.4 687.7 696.1 687.0C702.8 686.3 709.5 685.2 716.2 684.0C722.9 682.8 730.4 680.5 736.3 679.5C742.1 678.5 746.7 678.2 751.3 677.8C755.9 677.3 759.7 677.4 763.9 676.8C768.1 676.2 771.8 674.7 776.4 674.0C781.0 673.3 785.9 672.9 791.5 672.7C797.1 672.5 804.4 672.6 810.0 672.7C815.6 672.8 818.4 673.4 825.1 673.5C831.8 673.6 843.1 673.3 850.2 673.5C857.3 673.7 861.5 674.6 867.8 674.5C874.1 674.4 880.3 673.5 887.8 672.7C895.3 671.9 904.9 670.9 912.9 669.7C920.9 668.5 928.0 667.0 935.5 665.7C943.0 664.4 951.4 662.6 958.1 662.0C964.8 661.4 969.4 661.8 975.7 662.0C982.0 662.2 989.0 663.0 995.7 663.2C1002.4 663.4 1008.7 663.5 1015.8 663.4C1022.9 663.3 1032.1 662.9 1038.4 662.7C1044.7 662.5 1048.1 661.9 1053.5 662.0C1058.9 662.1 1064.7 663.0 1071.0 663.2C1077.3 663.4 1085.2 663.6 1091.1 663.4C1096.9 663.2 1100.2 662.7 1106.1 662.0C1111.9 661.3 1119.5 659.8 1126.2 659.0C1132.9 658.2 1139.6 657.3 1146.3 657.2C1153.0 657.1 1159.7 657.9 1166.4 658.2C1173.1 658.6 1180.8 659.1 1186.4 659.3C1192.0 659.5 1195.0 659.2 1200.0 659.6C1205.0 660.0 1210.5 661.2 1216.5 661.8C1222.5 662.4 1229.3 662.8 1235.7 663.1C1242.1 663.4 1249.0 663.9 1254.9 663.7C1260.9 663.5 1265.9 662.6 1271.4 661.8C1276.9 661.0 1282.3 659.9 1287.8 659.0C1293.3 658.1 1298.3 656.9 1304.3 656.3C1310.3 655.7 1320.5 655.5 1323.8 655.4" fill="none" stroke="#fde74c" stroke-width="1.1" stroke-linejoin="round"/>
<polyline points="10.4,631.8 19.2,630.2 30.2,624.1 38.4,623.6 48.0,622.5 57.6,625.5 67.2,638.7 77.4,638.7 87.3,649.4 96.0,652.7 105.7,649.4 115.8,639.2 124.9,650.8 135.0,659.5 144.6,671.9 154.2,667.8 163.8,693.6 174.3,700.2 183.3,698.2 192.9,676.0 202.5,678.5 212.1,687.0 221.7,682.6 231.9,662.6 240.9,665.9 251.1,663.1 260.7,661.2 270.3,655.2 279.9,658.2 290.3,667.2 299.1,680.7 309.3,672.7 318.9,679.3 328.5,672.7 338.1,680.7 347.7,683.7 357.3,686.4 367.2,676.8 376.8,682.6 386.4,682.6 396.0,694.1 406.3,698.3 415.0,697.3 425.1,689.0 435.9,683.5 444.7,684.5 454.0,689.5 464.0,699.6 472.8,684.8 482.8,679.0 492.8,677.0 502.4,680.3 511.7,682.0 521.7,685.3 531.0,685.5 540.5,678.5 550.6,672.2 560.6,682.0 570.1,686.0 579.4,689.5 588.7,693.6 599.0,701.6 608.8,700.3 618.3,691.6 627.9,690.6 637.9,699.1 647.2,691.6 656.7,681.5 666.5,680.3 676.0,674.5 685.6,668.2 694.9,669.7 704.9,668.0 714.9,670.5 725.0,661.7 735.0,670.2 745.0,678.3 753.8,679.5 763.1,684.8 773.1,671.0 782.7,675.2 792.0,669.2 802.3,680.3 811.8,674.5 820.8,677.8 830.6,670.2 841.4,669.2 850.2,669.7 860.2,672.7 869.8,671.0 879.0,665.7 889.1,667.7 899.1,660.7 908.4,662.4 917.9,658.9 928.0,648.9 937.3,644.6 946.8,653.9 956.8,651.7 965.6,664.5 975.7,674.0 985.2,682.0 994.5,678.0 1004.5,674.0 1014.0,669.7 1024.1,657.2 1033.4,656.2 1042.9,655.9 1052.7,653.2 1062.7,661.4 1072.3,654.7 1081.8,652.2 1091.6,651.4 1101.1,658.4 1111.2,654.7 1120.7,653.2 1130.0,667.0 1140.0,661.4 1149.6,663.2 1159.3,666.7 1168.9,666.2 1178.9,656.4 1188.5,661.9 1198.2,668.0 1208.2,660.9 1217.0,659.0 1226.9,670.8 1237.1,665.3 1246.1,666.7 1256.3,654.9 1265.9,648.9 1275.5,647.5 1285.6,639.0 1295.3,638.4 1304.3,648.9 1313.9,653.5 1323.8,651.6" fill="none" stroke="#7e57c2" stroke-width="1.1" stroke-linejoin="round"/>
<circle cx="1295.3" cy="639.3" r="11.3" fill="#f23645" fill-opacity="0.42" stroke="#787b86" stroke-width="1.1"/>
</g>
<text x="1335.5" y="37.2" font-size="13" fill="#454955" font-weight="bold" textLength="37.4" lengthAdjust="spacing" >95.90</text>
<text x="1355.5" y="196.4" font-size="13" fill="#000" font-weight="bold" textLength="37.4" lengthAdjust="spacing" >89.00</text>
<text x="1355.5" y="297.7" font-size="13" fill="#4a4e5a" font-weight="bold" textLength="37.4" lengthAdjust="spacing" >85.00</text>
<text x="1355.5" y="351.3" font-size="13" fill="#4a4e5a" font-weight="bold" textLength="37.4" lengthAdjust="spacing" >82.00</text>
<text x="1355.5" y="594.4" font-size="13" fill="#1e222d" font-weight="bold" textLength="37.4" lengthAdjust="spacing" >71.50</text>
<text x="1551.6" y="141.7" font-size="12" fill="#5b9cf6" text-anchor="end" textLength="71.1" lengthAdjust="spacingAndGlyphs" >0.382 (91.42)</text>
<text x="1551.6" y="467.4" font-size="12" fill="#5b9cf6" text-anchor="end" textLength="58.8" lengthAdjust="spacingAndGlyphs" >0.5 (77.02)</text>
<text x="18" y="45.9" font-size="12" fill="#2a2e39" textLength="21.3" lengthAdjust="spacingAndGlyphs" >SMA</text>
<text x="46.8" y="45.9" font-size="12" fill="#f23645" textLength="29.2" lengthAdjust="spacingAndGlyphs" >82.76</text>
<text x="18" y="62.7" font-size="12" fill="#2a2e39" textLength="21.3" lengthAdjust="spacingAndGlyphs" >SMA</text>
<text x="46.8" y="62.7" font-size="12" fill="#2e2eff" textLength="29.2" lengthAdjust="spacingAndGlyphs" >81.96</text>
<text x="17.8" y="632.3" font-size="12" fill="#2a2e39" textLength="15.2" lengthAdjust="spacingAndGlyphs" >RSI</text>
<text x="41" y="632.3" font-size="12" fill="#7e57c2" textLength="29.5" lengthAdjust="spacingAndGlyphs" >61.15</text>
<text x="78.8" y="632.3" font-size="12" fill="#fdd835" textLength="28.8" lengthAdjust="spacingAndGlyphs" >58.95</text>
<text x="115.4" y="632.1" font-size="10.5" fill="#5d606b" textLength="7.2" lengthAdjust="spacingAndGlyphs" >Ø</text>
<text x="130.66" y="632.1" font-size="10.5" fill="#5d606b" textLength="7.2" lengthAdjust="spacingAndGlyphs" >Ø</text>
<text x="145.92000000000002" y="632.1" font-size="10.5" fill="#5d606b" textLength="7.2" lengthAdjust="spacingAndGlyphs" >Ø</text>
<text x="161.18" y="632.1" font-size="10.5" fill="#5d606b" textLength="7.2" lengthAdjust="spacingAndGlyphs" >Ø</text>
<text x="176.44" y="632.1" font-size="10.5" fill="#5d606b" textLength="7.2" lengthAdjust="spacingAndGlyphs" >Ø</text>
<text x="191.7" y="632.1" font-size="10.5" fill="#5d606b" textLength="7.2" lengthAdjust="spacingAndGlyphs" >Ø</text>
<text x="17.8" y="732.2" font-size="12" fill="#2a2e39" textLength="29.7" lengthAdjust="spacingAndGlyphs" >MACD</text>
<text x="54.9" y="732.2" font-size="12" fill="#a5dbd5" textLength="22.8" lengthAdjust="spacingAndGlyphs" >0.21</text>
<text x="86.4" y="732.2" font-size="12" fill="#2962ff" textLength="22" lengthAdjust="spacingAndGlyphs" >1.23</text>
<text x="117.5" y="732.2" font-size="12" fill="#ff6d00" textLength="21.6" lengthAdjust="spacingAndGlyphs" >1.02</text>
<path d="M1560.5 27V792" stroke="#3b3f4a" stroke-width="1"/>
<path d="M10 764.4H1560.5" stroke="#2a2e39" stroke-width="1.05"/>
<text x="1568" y="93.8" font-size="12" fill="#454955" textLength="29.4" lengthAdjust="spacingAndGlyphs" >94.00</text>
<text x="1568" y="139.2" font-size="12" fill="#454955" textLength="29.4" lengthAdjust="spacingAndGlyphs" >92.00</text>
<text x="1568" y="184.5" font-size="12" fill="#454955" textLength="29.4" lengthAdjust="spacingAndGlyphs" >90.00</text>
<text x="1568" y="229.9" font-size="12" fill="#454955" textLength="29.4" lengthAdjust="spacingAndGlyphs" >88.00</text>
<text x="1568" y="320.6" font-size="12" fill="#454955" textLength="29.4" lengthAdjust="spacingAndGlyphs" >84.00</text>
<text x="1568" y="411.3" font-size="12" fill="#454955" textLength="29.4" lengthAdjust="spacingAndGlyphs" >80.00</text>
<text x="1568" y="456.7" font-size="12" fill="#454955" textLength="29.4" lengthAdjust="spacingAndGlyphs" >78.00</text>
<text x="1568" y="502.0" font-size="12" fill="#454955" textLength="29.4" lengthAdjust="spacingAndGlyphs" >76.00</text>
<text x="1568" y="547.4" font-size="12" fill="#454955" textLength="29.4" lengthAdjust="spacingAndGlyphs" >74.00</text>
<text x="1568" y="592.8" font-size="12" fill="#454955" textLength="29.4" lengthAdjust="spacingAndGlyphs" >72.00</text>
<text x="1567.8" y="626.3" font-size="12" fill="#454955" textLength="29.4" lengthAdjust="spacingAndGlyphs" >80.00</text>
<rect x="1564.5" y="31" width="55.5" height="26" rx="4" fill="#fff" stroke="#e6e9f0" stroke-width="1.4"/>
<text x="1573" y="49" font-size="12" fill="#2a2e39" textLength="20.3" lengthAdjust="spacingAndGlyphs" >USD</text>
<path d="M1560.6 194.3H1600.9a2 2 0 0 1 2 2V208.7a2 2 0 0 1 -2 2H1560.6Z" fill="#000"/>
<text x="1568" y="206.8" font-size="12" fill="#fff" font-weight="bold" textLength="29.4" lengthAdjust="spacingAndGlyphs" >89.05</text>
<path d="M1560.6 265H1618a2 2 0 0 1 2 2V293.5a2 2 0 0 1 -2 2H1560.6Z" fill="#26a69a"/>
<text x="1568" y="277.7" font-size="12" fill="#fff" font-weight="bold" textLength="29.4" lengthAdjust="spacingAndGlyphs" >85.89</text>
<text x="1568" y="291.8" font-size="12" fill="#d4edeb" textLength="46" lengthAdjust="spacingAndGlyphs" >09:11:53</text>
<rect x="1517.1" y="265" width="41.7" height="17.0" rx="2" fill="#26a69a"/>
<text x="1554" y="277.8" font-size="12" fill="#fff" text-anchor="end" font-weight="bold" textLength="32" lengthAdjust="spacingAndGlyphs" >UKOIL</text>
<path d="M1560.6 296.3H1600.9a2 2 0 0 1 2 2V310.6a2 2 0 0 1 -2 2H1560.6Z" fill="#000"/>
<text x="1568" y="308.8" font-size="12" fill="#fff" font-weight="bold" textLength="29.4" lengthAdjust="spacingAndGlyphs" >84.57</text>
<path d="M1560.6 336.3H1600.9a2 2 0 0 1 2 2V350.7a2 2 0 0 1 -2 2H1560.6Z" fill="#f23645"/>
<text x="1568" y="348.8" font-size="12" fill="#fff" font-weight="bold" textLength="29.4" lengthAdjust="spacingAndGlyphs" >82.76</text>
<rect x="1508.1" y="336.3" width="50.7" height="16.4" rx="2" fill="#f23645"/>
<text x="1554" y="348.8" font-size="12" fill="#fff" text-anchor="end" font-weight="bold" textLength="41.2" lengthAdjust="spacingAndGlyphs" >SMA:MA</text>
<path d="M1560.6 354.3H1600.9a2 2 0 0 1 2 2V368.7a2 2 0 0 1 -2 2H1560.6Z" fill="#2424ff"/>
<text x="1568" y="366.8" font-size="12" fill="#fff" font-weight="bold" textLength="29.4" lengthAdjust="spacingAndGlyphs" >81.96</text>
<rect x="1508.1" y="354.3" width="50.7" height="16.4" rx="2" fill="#2424ff"/>
<text x="1554" y="366.8" font-size="12" fill="#fff" text-anchor="end" font-weight="bold" textLength="41.2" lengthAdjust="spacingAndGlyphs" >SMA:MA</text>
<path d="M1560.6 370.7H1600.9a2 2 0 0 1 2 2V402.6a2 2 0 0 1 -2 2H1560.6Z" fill="#131722"/>
<text x="1568" y="384" font-size="12" fill="#fff" font-weight="bold" textLength="29.4" lengthAdjust="spacingAndGlyphs" >81.95</text>
<text x="1568" y="400.7" font-size="12" fill="#fff" font-weight="bold" textLength="29.4" lengthAdjust="spacingAndGlyphs" >81.90</text>
<path d="M1560.6 593H1600.9a2 2 0 0 1 2 2V607.8a2 2 0 0 1 -2 2H1560.6Z" fill="#000"/>
<text x="1568" y="605.7" font-size="12" fill="#fff" font-weight="bold" textLength="29.4" lengthAdjust="spacingAndGlyphs" >71.44</text>
<path d="M1560.6 643.9H1600.9a2 2 0 0 1 2 2V658.9a2 2 0 0 1 -2 2H1560.6Z" fill="#7e57c2"/>
<text x="1568" y="656.7" font-size="12" fill="#fff" font-weight="bold" textLength="29.4" lengthAdjust="spacingAndGlyphs" >61.15</text>
<rect x="1533" y="643.9" width="25.8" height="17.0" rx="2" fill="#7e57c2"/>
<text x="1554" y="656.7" font-size="12" fill="#fff" text-anchor="end" font-weight="bold" textLength="16" lengthAdjust="spacingAndGlyphs" >RSI</text>
<path d="M1560.6 661.8H1600.9a2 2 0 0 1 2 2V676a2 2 0 0 1 -2 2H1560.6Z" fill="#ffeb3b"/>
<text x="1568" y="674.2" font-size="12" fill="#131722" textLength="29.4" lengthAdjust="spacingAndGlyphs" >58.95</text>
<rect x="1479.2" y="661.8" width="79.6" height="16.2" rx="2" fill="#ffeb3b"/>
<text x="1554" y="674.2" font-size="12" fill="#131722" text-anchor="end" textLength="70" lengthAdjust="spacingAndGlyphs" >RSI-based MA</text>
<rect x="1467.6" y="678.8" width="91.2" height="15.4" rx="2" fill="#fff"/>
<text x="1554" y="690.8" font-size="12" fill="#131722" text-anchor="end" textLength="82" lengthAdjust="spacingAndGlyphs" >Regular Bearish</text>
<text x="1568" y="690.8" font-size="12" fill="#131722" textLength="29.4" lengthAdjust="spacingAndGlyphs" >58.51</text>
<rect x="1471.8" y="695.3" width="87.0" height="15.3" rx="2" fill="#fff"/>
<text x="1554" y="707.2" font-size="12" fill="#131722" text-anchor="end" textLength="78" lengthAdjust="spacingAndGlyphs" >Regular Bullish</text>
<text x="1568" y="707.3" font-size="12" fill="#131722" textLength="29.4" lengthAdjust="spacingAndGlyphs" >49.83</text>
<path d="M1560.6 713.1H1594.7a2 2 0 0 1 2 2V726.5a2 2 0 0 1 -2 2H1560.6Z" fill="#ff6d00"/>
<text x="1568" y="725.1" font-size="12" fill="#fff" font-weight="bold" textLength="22.5" lengthAdjust="spacingAndGlyphs" >1.02</text>
<rect x="1518.4" y="713.1" width="40.4" height="15.4" rx="2" fill="#ff6d00"/>
<text x="1554" y="725.1" font-size="12" fill="#fff" text-anchor="end" font-weight="bold" textLength="31.5" lengthAdjust="spacingAndGlyphs" >Signal</text>
<path d="M1560.6 729H1594.7a2 2 0 0 1 2 2V743.5a2 2 0 0 1 -2 2H1560.6Z" fill="#b2dfdb"/>
<text x="1568" y="741.5" font-size="12" fill="#2a2e39" textLength="22.5" lengthAdjust="spacingAndGlyphs" >0.21</text>
<rect x="1495.1" y="729" width="63.7" height="16.5" rx="2" fill="#b2dfdb"/>
<text x="1554" y="741.5" font-size="12" fill="#434651" text-anchor="end" textLength="53" lengthAdjust="spacingAndGlyphs" >Histogram</text>
<text x="48.5" y="781.8" font-size="11.7" fill="#2a2e39" text-anchor="middle" >18</text>
<text x="144.8" y="781.8" font-size="11.7" fill="#2a2e39" text-anchor="middle" >Oct</text>
<text x="241.5" y="781.8" font-size="11.7" fill="#2a2e39" text-anchor="middle" >16</text>
<text x="357.3" y="781.8" font-size="11.7" fill="#2a2e39" text-anchor="middle" >Nov</text>
<text x="482.8" y="781.8" font-size="11.7" fill="#2a2e39" text-anchor="middle" >20</text>
<text x="569.9" y="781.8" font-size="11.7" fill="#2a2e39" text-anchor="middle" >Dec</text>
<text x="676.5" y="781.8" font-size="11.7" fill="#2a2e39" text-anchor="middle" >18</text>
<text x="763.4" y="781.8" font-size="11.7" fill="#1e222d" text-anchor="middle" font-weight="bold" >2024</text>
<text x="850.2" y="781.8" font-size="11.7" fill="#2a2e39" text-anchor="middle" >15</text>
<text x="975.7" y="781.8" font-size="11.7" fill="#2a2e39" text-anchor="middle" >Feb</text>
<text x="1091.8" y="781.8" font-size="11.7" fill="#2a2e39" text-anchor="middle" >19</text>
<text x="1178.4" y="781.8" font-size="11.7" fill="#2a2e39" text-anchor="middle" >Mar</text>
<text x="1285.1" y="781.8" font-size="11.7" fill="#2a2e39" text-anchor="middle" >18</text>
<text x="1381.2" y="781.8" font-size="11.7" fill="#2a2e39" text-anchor="middle" >Apr</text>
<text x="1478.6" y="781.8" font-size="11.7" fill="#2a2e39" text-anchor="middle" >15</text>
<path d="M10.1 804.1H17.9V813.7H13.75V807.9H10.1Z M23.7 804.1H29.4L25.9 813.7H20.8Z" fill="#131722"/><circle cx="21" cy="805.6" r="1.55" fill="#131722"/>
<text x="32.9" y="813.7" font-size="12.3" fill="#1e222d" textLength="70.4" lengthAdjust="spacingAndGlyphs" >TradingView</text>
<defs><mask id="wm" maskUnits="userSpaceOnUse" x="1370" y="715" width="270" height="90"><rect x="1370" y="715" width="270" height="90" fill="#fff"/><text font-family="Noto Sans CJK SC, WenQuanYi Zen Hei, sans-serif" font-weight="900" font-size="58" letter-spacing="1.5" transform="translate(1389 782.5) skewX(-14)" x="0" y="0" fill="#000">海马财经</text></mask><filter id="bl" x="-5%" y="-20%" width="110%" height="140%"><feGaussianBlur stdDeviation="0.5"/></filter></defs>
<g mask="url(#wm)"><text font-family="Noto Sans CJK SC, WenQuanYi Zen Hei, sans-serif" font-weight="900" font-size="58" letter-spacing="1.5" transform="translate(1389 782.5) skewX(-14)" x="2.4" y="2.4" fill="#3a3d47" fill-opacity="0.85" filter="url(#bl)">海马财经</text></g>
<text font-family="Noto Sans CJK SC, WenQuanYi Zen Hei, sans-serif" font-weight="900" font-size="58" letter-spacing="1.5" transform="translate(1389 782.5) skewX(-14)" x="0" y="0" fill="#fff" fill-opacity="0.55">海马财经</text>
<g font-weight="bold" font-style="italic" font-size="31" stroke-width="1.7" stroke-linejoin="round">
<text x="1401.8" y="823" fill="#8fa9a8" stroke="#8fa9a8" textLength="223" lengthAdjust="spacing">zzrt01.cn</text>
<text x="1400" y="821.4" fill="#84b3f6" stroke="#84b3f6" textLength="223" lengthAdjust="spacing">zzrt01.cn</text>
</g>
</svg>
</body></html>
